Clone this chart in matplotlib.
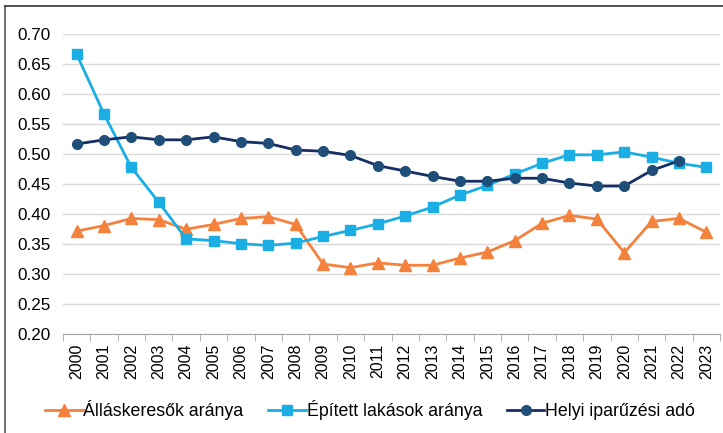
import matplotlib.pyplot as plt
from matplotlib.lines import Line2D

plt.rcParams['font.family'] = ['Liberation Sans', 'DejaVu Sans']

years = [str(y) for y in range(2000, 2024)]

allaskeresok = [0.372, 0.381, 0.393, 0.391, 0.375, 0.383, 0.393, 0.396, 0.383, 0.317,
                0.311, 0.319, 0.315, 0.315, 0.327, 0.337, 0.356, 0.385, 0.398, 0.392,
                0.336, 0.388, 0.393, 0.370]
epitett = [0.667, 0.567, 0.478, 0.420, 0.359, 0.356, 0.351, 0.348, 0.352, 0.363,
           0.373, 0.384, 0.397, 0.412, 0.432, 0.448, 0.467, 0.485, 0.499, 0.499,
           0.504, 0.495, 0.485, 0.478]
iparuzesi = [0.517, 0.524, 0.529, 0.524, 0.524, 0.529, 0.521, 0.518, 0.507, 0.505,
             0.498, 0.481, 0.472, 0.463, 0.455, 0.455, 0.460, 0.460, 0.452, 0.447,
             0.447, 0.473, 0.489]

fig = plt.figure(figsize=(7.23, 4.33), dpi=100)
ax = fig.add_axes([0.087, 0.228, 0.909, 0.693])

x = list(range(len(years)))
ax.plot(x, allaskeresok, color='#F4823C', lw=2, marker='^', ms=8, label='Álláskeresők aránya')
ax.plot(x, epitett, color='#1AAEE5', lw=2, marker='s', ms=7, label='Épített lakások aránya')
ax.plot(x[:len(iparuzesi)], iparuzesi, color='#152F66', lw=2, marker='o', ms=7,
        markerfacecolor='#1F4E79', markeredgecolor='#1F4E79', label='Helyi iparűzési adó')

ax.set_ylim(0.2, 0.7)
ax.set_xlim(-0.5, len(years) - 0.5)
ax.set_yticks([0.2 + 0.05 * i for i in range(11)])
ax.set_yticklabels([f'{0.2 + 0.05 * i:.2f}' for i in range(11)], fontsize=12.3)
ax.yaxis.grid(True, color='#D9D9D9', lw=1)
ax.set_axisbelow(True)

ax.set_xticks(x)
ax.set_xticklabels(years, rotation=90, fontsize=11.4)
ax.tick_params(axis='x', length=0, pad=7)
ax.set_xticks([i - 0.5 for i in range(len(years) + 1)], minor=True)
ax.tick_params(axis='x', which='minor', length=5, color='#A6A6A6')
ax.tick_params(axis='y', length=0, pad=9)

for s in ['top', 'right', 'left']:
    ax.spines[s].set_visible(False)
ax.spines['bottom'].set_color('#A6A6A6')

fig.legend(*ax.get_legend_handles_labels(), loc='center', bbox_to_anchor=(0.512, 0.053),
           ncol=3, frameon=False, fontsize=12.8, handlelength=2.1, handletextpad=0.05,
           columnspacing=1.4, borderpad=0)

# outer frame of the original chart
fig.add_artist(Line2D([5 / 723, 5 / 723], [0, 1 - 6 / 433], color='#555555', lw=1.2))
fig.add_artist(Line2D([5 / 723, 1], [1 - 6 / 433, 1 - 6 / 433], color='#333333', lw=1.2))

fig.savefig('out.png', dpi=100)
